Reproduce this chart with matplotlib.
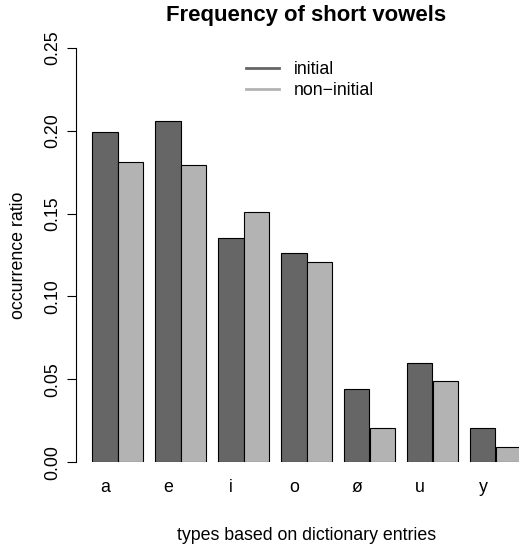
import numpy as np
import matplotlib.pyplot as plt
from matplotlib.lines import Line2D

# ── Data ─────────────────────────────────────────────────────────────────────
vowels      = ['a', 'e', 'i', 'o', 'ø', 'u', 'y']
initial     = [0.199, 0.206, 0.135, 0.126, 0.0444, 0.060, 0.0209]
non_initial = [0.181, 0.179, 0.151, 0.121, 0.0205, 0.049, 0.0092]
yticks      = [0.00, 0.05, 0.10, 0.15, 0.20, 0.25]

DARK  = '#666666'
LIGHT = '#b3b3b3'
FS = 12.8

plt.rcParams['font.family'] = ['Liberation Sans', 'DejaVu Sans']

W, H = 519, 550
fig = plt.figure(figsize=(W / 100, H / 100), dpi=100)

# plot region in pixels: left spine at x=75.7, y=0 at 462.3, y=0.25 at 47.7
left_px, bot_px, top_px = 75.7, 462.3, 47.7
ax = fig.add_axes([left_px / W, 1 - bot_px / H, 1 - left_px / W,
                   (bot_px - top_px) / H])

# bar positions: groups of 2 bars + 0.5 gap, first bar starts at 0.5
group_start = 0.5 + 2.5 * np.arange(len(vowels))
ax.bar(group_start, initial, width=1.0, align='edge', color=DARK,
       edgecolor='black', linewidth=0.8)
ax.bar(group_start + 1.0, non_initial, width=1.0, align='edge', color=LIGHT,
       edgecolor='black', linewidth=0.8)

px_per_unit = 25.2
x0 = 0.5 - (92.3 - left_px) / px_per_unit
ax.set_xlim(x0, x0 + (W - left_px) / px_per_unit)
ax.set_ylim(0, 0.25)

for s in ['top', 'right', 'bottom']:
    ax.spines[s].set_visible(False)
ax.spines['left'].set_bounds(0, 0.25)
ax.spines['left'].set_linewidth(0.8)

ax.set_yticks(yticks)
ax.set_yticklabels([f'{v:.2f}' for v in yticks], rotation=90, va='center',
                   fontsize=FS)
ax.tick_params(axis='y', length=6.5, width=0.8, pad=4)

# category labels sit under the first bar of each group
ax.set_xticks(group_start + 0.5)
ax.set_xticklabels(vowels, fontsize=FS)
ax.tick_params(axis='x', length=0, pad=12)

ax.set_xlabel('types based on dictionary entries', fontsize=FS)
ax.xaxis.set_label_coords((306.5 - left_px) / (W - left_px),
                          -(535 - bot_px) / (bot_px - top_px))
ax.xaxis.label.set_va('center')
ax.set_ylabel('occurrence ratio', fontsize=FS)
ax.yaxis.set_label_coords(-(left_px - 19) / (W - left_px), 0.5)
ax.yaxis.label.set_va('center')

fig.text(306.5 / W, 1 - 15 / H, 'Frequency of short vowels',
         ha='center', va='center', fontsize=15.9, fontweight='bold')

handles = [Line2D([], [], color=DARK, lw=2),
           Line2D([], [], color=LIGHT, lw=2)]
leg = fig.legend(handles, ['initial', 'non\u2212initial'], frameon=False,
                 fontsize=FS, loc='upper left',
                 bbox_to_anchor=(246 / W, 1 - 61.5 / H),
                 handlelength=1.85, handletextpad=0.85, labelspacing=0.2,
                 borderaxespad=0, borderpad=0)

fig.savefig('out.png', dpi=100)
